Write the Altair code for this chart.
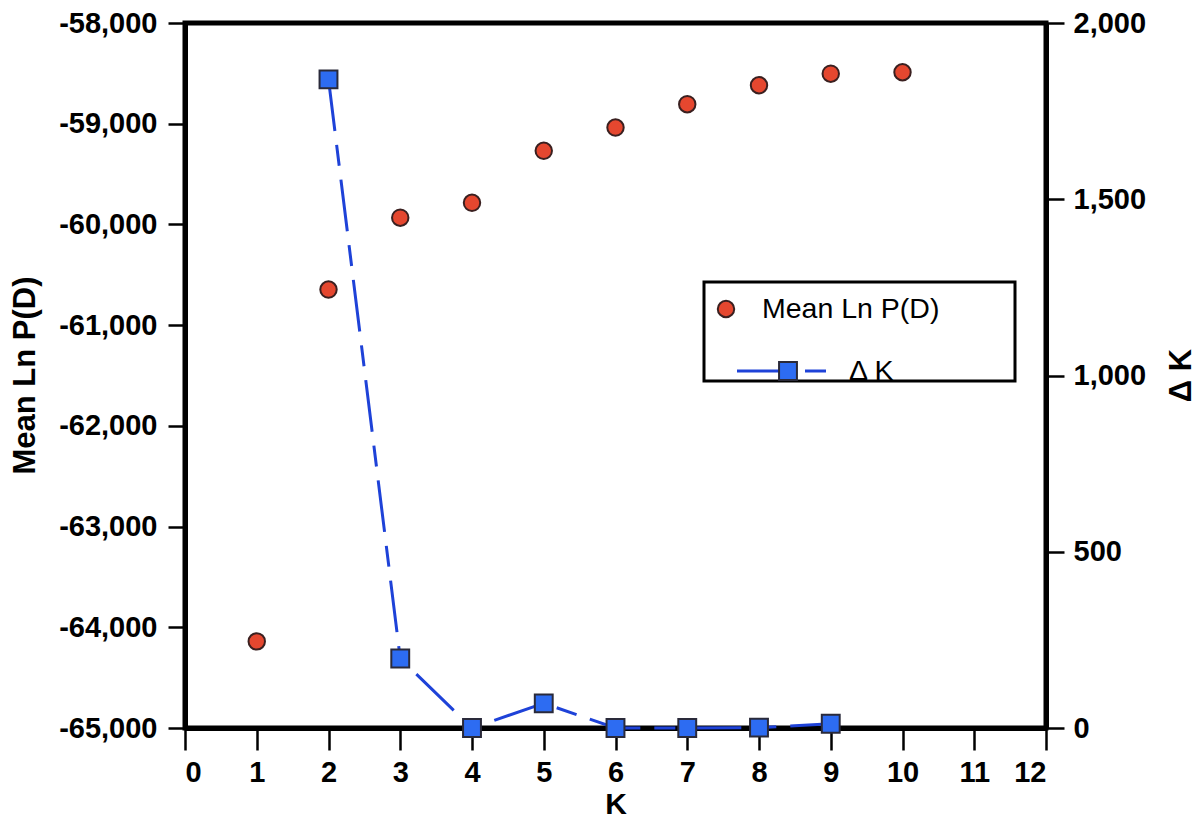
import altair as alt
import pandas as pd

# ---- data ----
k_values = [1, 2, 3, 4, 5, 6, 7, 8, 9, 10]
mean_ln_pd = [-64140, -60647, -59933, -59785, -59269, -59038, -58806, -58618, -58503, -58489]

dk_k = [2, 3, 4, 5, 6, 7, 8, 9]
delta_k = [1840, 197, 0, 70, 0, 0, 1, 12]

x_ticks = list(range(0, 13))
left_ticks = [-65000, -64000, -63000, -62000, -61000, -60000, -59000, -58000]
right_ticks = [0, 500, 1000, 1500, 2000]

df_ln = pd.DataFrame({"K": k_values, "lnpd": mean_ln_pd})
df_dk = pd.DataFrame({"K": dk_k, "dk": delta_k})
one = pd.DataFrame({"a": [0]})

FONT = "Liberation Sans"
RED = "#E5472F"
RED_STROKE = "#3a2020"
BLUE = "#2D6CF2"
BLUE_STROKE = "#2a2a3a"
LINE = "#1E42D8"
DASH = [52, 14, 21, 14]

num_label = "replace(format(datum.value, ','), '\u2212', '-')"

x_enc = alt.X(
    "K:Q",
    scale=alt.Scale(domain=[0, 12], nice=False, zero=False),
    axis=alt.Axis(
        values=x_ticks, title="K", labelExpr="format(datum.value, 'd')",
        tickSize=22, labelPadding=8, titleFontSize=30,
        titleY=76, titleBaseline="middle",
    ),
)

red = alt.Chart(df_ln).mark_point(
    shape="circle", filled=True, size=270, fill=RED, stroke=RED_STROKE,
    strokeWidth=2, opacity=1,
).encode(
    x=x_enc,
    y=alt.Y(
        "lnpd:Q",
        scale=alt.Scale(domain=[-65000, -58000], nice=False, zero=False),
        axis=alt.Axis(
            orient="left", values=left_ticks, labelExpr=num_label,
            title="Mean Ln P(D)", tickSize=17, labelPadding=11,
            titleX=-160, titleY=352, titleAngle=270, titleBaseline="middle",
            titleAlign="center",
        ),
    ),
)

dk_scale = alt.Scale(domain=[0, 2000], nice=False, zero=False)

line = alt.Chart(df_dk).mark_line(
    color=LINE, strokeWidth=3, strokeDash=DASH,
).encode(
    x="K:Q",
    y=alt.Y("dk:Q", scale=dk_scale, axis=None),
)

squares = alt.Chart(df_dk).mark_point(
    shape="square", filled=True, size=320, fill=BLUE, stroke=BLUE_STROKE,
    strokeWidth=2, opacity=1,
).encode(
    x="K:Q",
    y=alt.Y(
        "dk:Q", scale=dk_scale,
        axis=alt.Axis(
            orient="right", values=right_ticks, labelExpr=num_label,
            title="\u0394 K", tickSize=18, labelPadding=9,
            titleX=135, titleY=352, titleAngle=270, titleBaseline="middle",
            titleAlign="center",
        ),
    ),
)

# ---- legend (drawn as decoration in pixel space) ----
leg_box = alt.Chart(one).mark_rect(
    fill="white", stroke="black", strokeWidth=3,
).encode(x=alt.value(519), x2=alt.value(830), y=alt.value(259), y2=alt.value(358))

leg_circle = alt.Chart(one).mark_point(
    shape="circle", filled=True, size=270, fill=RED, stroke=RED_STROKE,
    strokeWidth=2, opacity=1,
).encode(x=alt.value(541), y=alt.value(286))

leg_text1 = alt.Chart(one).mark_text(
    text="Mean Ln P(D)", font=FONT, fontSize=28.5, align="left", baseline="middle",
    color="black",
).encode(x=alt.value(577), y=alt.value(286))

leg_line1 = alt.Chart(one).mark_rule(color=LINE, strokeWidth=3).encode(
    x=alt.value(552), x2=alt.value(600), y=alt.value(348)
)
leg_line2 = alt.Chart(one).mark_rule(color=LINE, strokeWidth=3).encode(
    x=alt.value(620), x2=alt.value(641), y=alt.value(348)
)
leg_square = alt.Chart(one).mark_point(
    shape="square", filled=True, size=320, fill=BLUE, stroke=BLUE_STROKE,
    strokeWidth=2, opacity=1,
).encode(x=alt.value(603), y=alt.value(348))

leg_text2 = alt.Chart(one).mark_text(
    text="\u0394 K", font=FONT, fontSize=28.5, align="left", baseline="middle",
    color="black",
).encode(x=alt.value(664), y=alt.value(348))

chart = alt.layer(
    red, line, squares,
    leg_box, leg_circle, leg_text1, leg_line1, leg_line2, leg_square, leg_text2,
).resolve_scale(
    y="independent"
).properties(
    width=861, height=705,
    autosize=alt.AutoSizeParams(type="none"),
    padding={"left": 177, "top": 15, "right": 150, "bottom": 92},
    background="white",
).configure_view(
    stroke="black", strokeWidth=5,
).configure_axis(
    domainColor="black", domainWidth=5, tickColor="black", tickWidth=2.5,
    grid=False, labelFont=FONT, labelFontSize=29, labelFontWeight="bold",
    labelColor="black", titleFont=FONT, titleFontSize=31, titleFontWeight="bold",
    titleColor="black",
)

chart.save("out.html", embed_options={"renderer": "svg", "actions": False})
